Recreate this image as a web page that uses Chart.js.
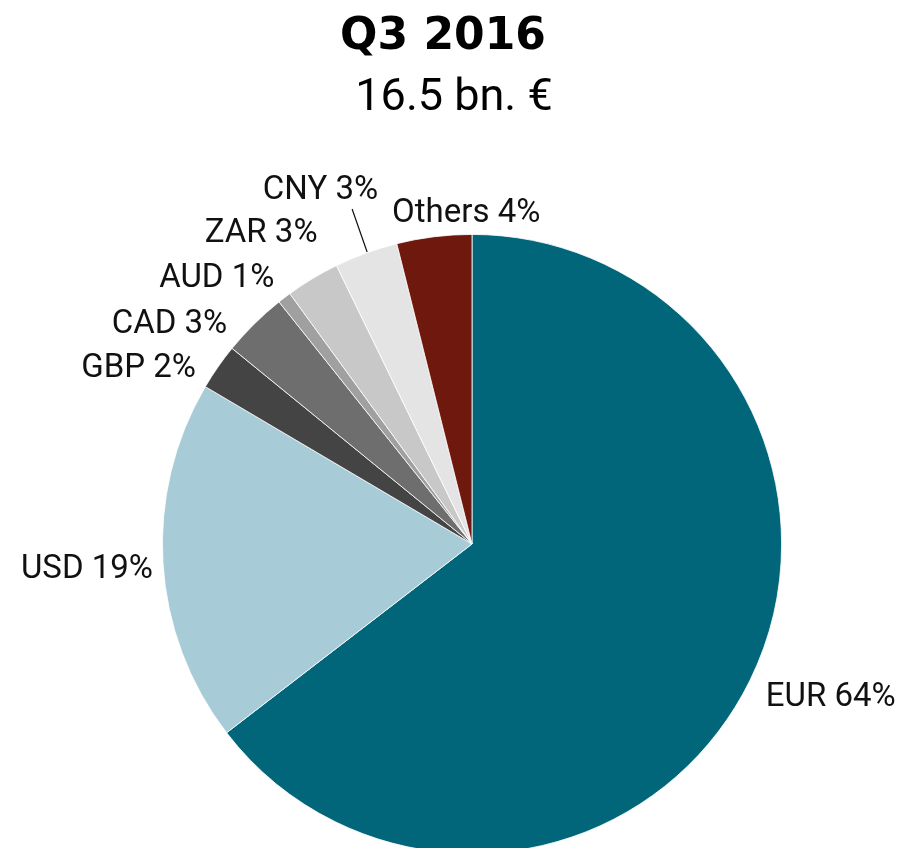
<!DOCTYPE html>
<html>
<head>
<meta charset="utf-8">
<script src="https://cdn.jsdelivr.net/npm/chart.js@4.4.1/dist/chart.umd.min.js"></script>
<style>
html,body{margin:0;padding:0;background:#fff;overflow:hidden;}
#wrap{width:906px;height:848px;position:relative;overflow:hidden;}
</style>
</head>
<body>
<div id="wrap"><canvas id="c" width="906" height="854"></canvas></div>
<script>
const titleText = 'Q3 2016';
const subtitleText = '16.5 bn. €';
const categories = ['EUR', 'USD', 'GBP', 'CAD', 'AUD', 'ZAR', 'CNY', 'Others'];
const shares = [64.5, 18.9, 2.4, 3.4, 0.7, 2.8, 3.3, 3.9];
const shareLabels = ['64%', '19%', '2%', '3%', '1%', '3%', '3%', '4%'];
const sliceColors = ['#02667B', '#A8CBD8', '#444444', '#6E6E6E', '#A0A0A0', '#C8C8C8', '#E4E4E4', '#6E180E'];

// label nudges relative to the slice's mid-angle point on the outer edge
const labelNudge = [
  {dx: 16, dy: 14, align: 'left'},
  {dx: -10, dy: 3, align: 'right'},
  {dx: -22, dy: -2, align: 'right'},
  {dx: -27, dy: -3, align: 'right'},
  {dx: -10, dy: -22, align: 'right'},
  {dx: 5, dy: -48, align: 'right'},
  {dx: 12, dy: -66, align: 'right', leader: [[1, -1], [-14, -44]]},
  {dx: -42, dy: -26, align: 'left'}
];

const titlePlugin = {
  id: 'titles',
  afterDraw(chart) {
    const ctx = chart.ctx;
    ctx.save();
    ctx.fillStyle = '#000';
    ctx.textAlign = 'center';
    ctx.textBaseline = 'alphabetic';
    ctx.font = 'bold 44px "DejaVu Sans"';
    ctx.fillText(titleText, 443, 49);
    ctx.font = '45px Roboto';
    ctx.fillText(subtitleText, 454, 110);
    ctx.restore();
  }
};

const labelPlugin = {
  id: 'sliceLabels',
  afterDatasetsDraw(chart) {
    const ctx = chart.ctx;
    const meta = chart.getDatasetMeta(0);
    ctx.save();
    ctx.font = '33px Roboto';
    ctx.fillStyle = '#111';
    ctx.strokeStyle = '#111';
    ctx.lineWidth = 1.2;
    ctx.textBaseline = 'alphabetic';
    meta.data.forEach((arc, i) => {
      const p = arc.getProps(['x', 'y', 'startAngle', 'endAngle', 'outerRadius'], true);
      const mid = (p.startAngle + p.endAngle) / 2;
      const px = p.x + Math.cos(mid) * p.outerRadius;
      const py = p.y + Math.sin(mid) * p.outerRadius;
      const n = labelNudge[i];
      if (n.leader) {
        ctx.beginPath();
        ctx.moveTo(px + n.leader[0][0], py + n.leader[0][1]);
        ctx.lineTo(px + n.leader[1][0], py + n.leader[1][1]);
        ctx.stroke();
      }
      ctx.textAlign = n.align;
      ctx.fillText(categories[i] + ' ' + shareLabels[i], px + n.dx, py + n.dy + 11.7);
    });
    ctx.restore();
  }
};

new Chart(document.getElementById('c'), {
  type: 'pie',
  data: {
    labels: categories,
    datasets: [{
      data: shares,
      backgroundColor: sliceColors,
      borderColor: '#ffffff',
      borderWidth: 0.8
    }]
  },
  options: {
    responsive: false,
    animation: false,
    layout: {padding: {top: 234, left: 162, right: 124, bottom: 0}},
    plugins: {
      legend: {display: false},
      tooltip: {enabled: false},
      title: {display: false}
    }
  },
  plugins: [titlePlugin, labelPlugin]
});
</script>
</body>
</html>
